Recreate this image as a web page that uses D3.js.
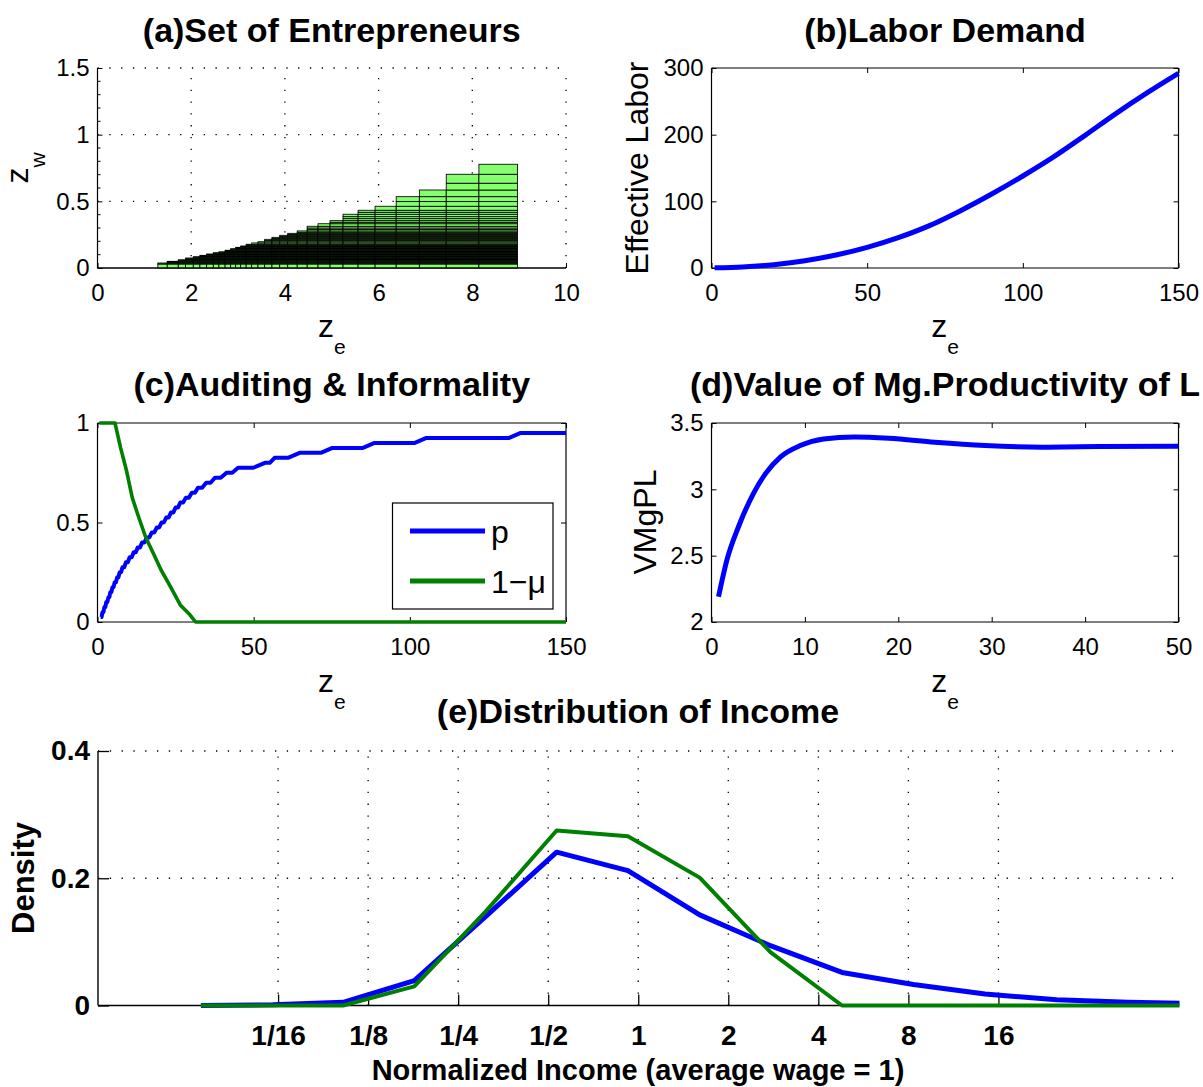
<!DOCTYPE html>
<html>
<head>
<meta charset="utf-8">
<script src="https://cdn.jsdelivr.net/npm/d3@7"></script>
<style>
  body { margin: 0; background: #fff; }
  svg { display: block; }
  text { font-family: "Liberation Sans", Arial, Helvetica, sans-serif; fill: #000; }
</style>
</head>
<body>
<svg id="fig" width="1203" height="1087"></svg>
<script>
// ---------- (a) Set of Entrepreneurs: grid cells (z_e bins x z_w levels) ----------
const entEdges = [1.288, 1.489, 1.724, 1.880, 2.045, 2.186, 2.329, 2.472, 2.592, 2.724, 2.842,
  2.949, 3.056, 3.173, 3.291, 3.425, 3.568, 3.724, 3.889, 4.060, 4.263, 4.476, 4.707, 4.964,
  5.241, 5.562, 5.925, 6.376, 6.870, 7.444, 8.141, 8.964];
const entTops = [0.0375, 0.05, 0.062, 0.075, 0.085, 0.095, 0.105, 0.115, 0.122, 0.133, 0.145,
  0.155, 0.165, 0.178, 0.188, 0.197, 0.215, 0.23, 0.245, 0.26, 0.278, 0.313, 0.332, 0.355,
  0.403, 0.433, 0.463, 0.535, 0.585, 0.703, 0.778];
const zwLevels = [0.03, 0.0375, 0.044, 0.05, 0.056, 0.062, 0.068, 0.075, 0.080, 0.085, 0.090,
  0.095, 0.100, 0.105, 0.110, 0.115, 0.122, 0.128, 0.133, 0.139, 0.145, 0.150, 0.155, 0.160,
  0.165, 0.171, 0.178, 0.188, 0.197, 0.206, 0.215, 0.222, 0.23, 0.237, 0.245, 0.252, 0.26,
  0.268, 0.278, 0.288, 0.300, 0.313, 0.332, 0.343, 0.355, 0.37, 0.385, 0.403, 0.418, 0.433,
  0.463, 0.498, 0.535, 0.585, 0.636, 0.703, 0.778];

// ---------- (b) Labor Demand ----------
const laborZ = [1, 10, 20, 30, 40, 50, 60, 70, 80, 90, 100, 110, 120, 130, 140, 150];
const laborL = [0.3, 1.5, 5, 11, 19.5, 31, 45.5, 63.5, 86, 111, 138, 167, 199, 232, 263, 292];

// ---------- (c) Auditing & Informality ----------
// auditing probability p: z_e at which each step level is reached
const pStart = [1.0, 1.6, 2.2, 2.8, 3.5, 4.1, 4.8, 5.5, 6.3, 7.1, 8.0, 9.1, 10.3, 11.6, 12.9,
  14.3, 15.8, 17.4, 19.0, 20.5, 22.0, 23.5, 25.0, 26.5, 28.3, 30.2, 32.2, 34.8, 37.6, 41.3,
  45.0, 53.6, 56.7, 64.7, 75.2, 88.7, 105.3, 135.5];
const pLevel = [0.025, 0.05, 0.075, 0.1, 0.125, 0.15, 0.175, 0.2, 0.225, 0.25, 0.275, 0.3,
  0.325, 0.35, 0.375, 0.4, 0.425, 0.45, 0.475, 0.5, 0.525, 0.55, 0.575, 0.6, 0.625, 0.65,
  0.675, 0.7, 0.725, 0.75, 0.775, 0.8, 0.825, 0.85, 0.875, 0.9, 0.925, 0.95];
// informality share 1 - mu
const muZ = [0.6, 5.6, 7.4, 9.3, 11.1, 13.0, 15.4, 17.9, 20.4, 23.4, 26.5, 29.6, 31.4, 150];
const muV = [1, 1, 0.875, 0.76, 0.626, 0.535, 0.427, 0.344, 0.26, 0.177, 0.086, 0.036, 0, 0];
const legendLabels = ["p", "1\u2212\u03bc"];

// ---------- (d) Value of marginal productivity of labor ----------
const vmpZ = [0.75, 1.66, 2.9, 4.5, 5.8, 7.4, 9.5, 12, 15.3, 19, 23.9, 29.3, 35.4, 41.6, 50];
const vmpV = [2.19, 2.47, 2.72, 2.97, 3.12, 3.245, 3.33, 3.38, 3.395, 3.385, 3.355, 3.33, 3.318, 3.322, 3.325];

// ---------- (e) Distribution of Income ----------
const incomeX = [0.0345, 0.0600, 0.1031, 0.1784, 0.3092, 0.5335, 0.9234, 1.605, 2.766, 4.80,
  8.32, 14.44, 25.07, 43.4, 75.0];
const densityAll = [0, 0.001, 0.005, 0.039, 0.14, 0.241, 0.212, 0.1425, 0.094, 0.052, 0.033,
  0.018, 0.009, 0.005, 0.003];
const densityFormal = [0, 0, 0, 0.030, 0.148, 0.275, 0.266, 0.201, 0.084, 0, 0, 0, 0, 0, 0];
const incomeTicks = [1/16, 1/8, 1/4, 1/2, 1, 2, 4, 8, 16];
const incomeTickLabels = ["1/16", "1/8", "1/4", "1/2", "1", "2", "4", "8", "16"];

// ---------- figure ----------
const svg = d3.select("#fig");
svg.append("rect").attr("width", 1203).attr("height", 1087).attr("fill", "#fff");

const BLUE = "#0000ff", GREEN = "#008000", CELL = "#86ff6e";

function frame(opt) {
  const g = svg.append("g");
  const [x0, x1] = opt.x.range(), [y1, y0] = opt.y.range(); // y1 bottom, y0 top
  const fs = opt.fontSize, fw = opt.bold ? "bold" : "normal";
  // dotted grid
  if (opt.grid) {
    const gg = g.append("g").attr("stroke", "#000").attr("stroke-width", 1.3)
      .attr("stroke-dasharray", "1.3,10.5").attr("fill", "none");
    opt.xTicks.forEach(v => {
      const px = opt.x(v);
      if (Math.abs(px - x0) < 1) return;
      gg.append("line").attr("x1", px).attr("x2", px).attr("y1", y1).attr("y2", y0);
    });
    opt.yTicks.forEach(v => {
      const py = opt.y(v);
      if (Math.abs(py - y1) < 1) return;
      gg.append("line").attr("x1", x0).attr("x2", x1).attr("y1", py).attr("y2", py);
    });
  }
  const ax = g.append("g").attr("class", "axes");
  // bottom axis
  const bx = ax.append("g").attr("transform", `translate(0,${y1})`)
    .call(d3.axisBottom(opt.x).tickValues(opt.xTicks).tickSize(-opt.tickLen)
      .tickPadding(opt.xPad).tickFormat((d, i) => opt.xFmt ? opt.xFmt(d, i) : d));
  // left axis
  const lx = ax.append("g").attr("transform", `translate(${x0},0)`)
    .call(d3.axisLeft(opt.y).tickValues(opt.yTicks).tickSize(-opt.tickLen)
      .tickPadding(opt.yPad).tickFormat(d => opt.yFmt ? opt.yFmt(d) : d));
  [bx, lx].forEach(s => {
    s.select(".domain").remove();
    s.selectAll("text").attr("font-size", fs).attr("font-weight", fw)
      .attr("font-family", '"Liberation Sans", Arial, sans-serif').attr("fill", "#000");
    s.selectAll(".tick line").attr("stroke", "#000").attr("stroke-width", opt.tickW || 1);
  });
  if (opt.box) {
    const tx = ax.append("g").attr("transform", `translate(0,${y0})`)
      .call(d3.axisTop(opt.x).tickValues(opt.xTicks).tickSize(-opt.tickLen).tickFormat(""));
    const rx = ax.append("g").attr("transform", `translate(${x1},0)`)
      .call(d3.axisRight(opt.y).tickValues(opt.yTicks).tickSize(-opt.tickLen).tickFormat(""));
    [tx, rx].forEach(s => { s.select(".domain").remove(); s.selectAll(".tick line").attr("stroke", "#000"); });
  }
  if (opt.yMinor) {
    opt.yMinor.forEach(v => {
      ax.append("line").attr("x1", x0).attr("x2", x0 + 3).attr("y1", opt.y(v)).attr("y2", opt.y(v))
        .attr("stroke", "#000").attr("stroke-width", 1);
    });
  }
  // solid axis lines
  const lw = opt.axisW || 1.2;
  ax.append("line").attr("x1", x0).attr("x2", x1).attr("y1", y1).attr("y2", y1).attr("stroke", "#000").attr("stroke-width", lw);
  ax.append("line").attr("x1", x0).attr("x2", x0).attr("y1", y1).attr("y2", y0).attr("stroke", "#000").attr("stroke-width", lw);
  if (opt.box) {
    ax.append("line").attr("x1", x0).attr("x2", x1).attr("y1", y0).attr("y2", y0).attr("stroke", "#000").attr("stroke-width", lw);
    ax.append("line").attr("x1", x1).attr("x2", x1).attr("y1", y1).attr("y2", y0).attr("stroke", "#000").attr("stroke-width", lw);
  }
  return g;
}

function title(txt, cx, by) {
  svg.append("text").attr("x", cx).attr("y", by).attr("text-anchor", "middle")
    .attr("font-size", 34).attr("font-weight", "bold").text(txt);
}

function subLabel(x, y, main, sub, rotate) {
  const t = svg.append("text").attr("text-anchor", "middle").attr("font-size", 32);
  if (rotate) t.attr("transform", `translate(${x},${y}) rotate(-90)`);
  else t.attr("x", x).attr("y", y);
  t.append("tspan").text(main);
  t.append("tspan").attr("font-size", 21).attr("dy", 17).text(sub);
}

function plainLabel(x, y, txt, rotate, size, bold) {
  const t = svg.append("text").attr("text-anchor", "middle").attr("font-size", size)
    .attr("font-weight", bold ? "bold" : "normal").text(txt);
  if (rotate) t.attr("transform", `translate(${x},${y}) rotate(-90)`);
  else t.attr("x", x).attr("y", y);
  return t;
}

// ================= (a) =================
const xa = d3.scaleLinear().domain([0, 10]).range([97.5, 566]);
const ya = d3.scaleLinear().domain([0, 1.5]).range([268, 68]);
frame({ x: xa, y: ya, xTicks: [0, 2, 4, 6, 8, 10], yTicks: [0, 0.5, 1, 1.5], grid: true, box: false,
  tickLen: 5, fontSize: 24, xPad: 16, yPad: 8, yMinor: d3.range(1, 15).filter(i => i % 5).map(i => i / 10) });
const cellG = svg.append("g").attr("stroke", "#000").attr("stroke-width", 0.85).attr("fill", CELL);
entTops.forEach((top, i) => {
  const xl = xa(entEdges[i]), xr = xa(entEdges[i + 1]);
  let prev = 0;
  zwLevels.filter(l => l <= top + 1e-9).forEach(l => {
    cellG.append("rect").attr("x", xl).attr("width", xr - xl)
      .attr("y", ya(l)).attr("height", ya(prev) - ya(l));
    prev = l;
  });
});
// redraw bottom axis line over the cells
svg.append("line").attr("x1", 97.5).attr("x2", 566).attr("y1", 268).attr("y2", 268).attr("stroke", "#000").attr("stroke-width", 1.2);
title("(a)Set of Entrepreneurs", 331.75, 42);
subLabel(331.75, 337, "z", "e", false);
subLabel(28, 168, "z", "w", true);

// ================= (b) =================
const xb = d3.scaleLinear().domain([0, 150]).range([711.5, 1178.5]);
const yb = d3.scaleLinear().domain([0, 300]).range([268, 68]);
frame({ x: xb, y: yb, xTicks: [0, 50, 100, 150], yTicks: [0, 100, 200, 300], grid: false, box: true,
  tickLen: 5, fontSize: 24, xPad: 16, yPad: 8 });
svg.append("path").datum(laborZ.map((z, i) => [z, laborL[i]]))
  .attr("fill", "none").attr("stroke", BLUE).attr("stroke-width", 5).attr("stroke-linejoin", "round")
  .attr("d", d3.line().x(d => xb(d[0])).y(d => yb(d[1])).curve(d3.curveMonotoneX));
title("(b)Labor Demand", 945, 42);
subLabel(945, 337, "z", "e", false);
plainLabel(648, 168, "Effective Labor", true, 32, false);

// ================= (c) =================
const xc = d3.scaleLinear().domain([0, 150]).range([97.5, 566]);
const yc = d3.scaleLinear().domain([0, 1]).range([622, 423]);
frame({ x: xc, y: yc, xTicks: [0, 50, 100, 150], yTicks: [0, 0.5, 1], grid: false, box: true,
  tickLen: 5, fontSize: 24, xPad: 16, yPad: 8 });
// staircase with slanted risers between successive levels
const pPts = [];
pStart.forEach((s, k) => {
  pPts.push([s, pLevel[k]]);
  const next = k + 1 < pStart.length ? pStart[k + 1] : null;
  if (next !== null) pPts.push([next - Math.min(0.5 * (next - s), 3.7), pLevel[k]]);
  else pPts.push([150, pLevel[k]]);
});
const lineC = d3.line().x(d => xc(d[0])).y(d => yc(d[1]));
svg.append("path").datum(pPts).attr("fill", "none").attr("stroke", BLUE).attr("stroke-width", 4)
  .attr("stroke-linejoin", "round").attr("d", lineC);
svg.append("path").datum(muZ.map((z, i) => [z, muV[i]])).attr("fill", "none").attr("stroke", GREEN)
  .attr("stroke-width", 3.6).attr("stroke-linejoin", "round").attr("d", lineC);
// legend
const lg = svg.append("g");
lg.append("rect").attr("x", 392.5).attr("y", 503).attr("width", 160.5).attr("height", 106)
  .attr("fill", "#fff").attr("stroke", "#000").attr("stroke-width", 1.2);
[[BLUE, 531, 543], [GREEN, 581, 593]].forEach(([c, ly, ty], i) => {
  lg.append("line").attr("x1", 410).attr("x2", 485).attr("y1", ly).attr("y2", ly)
    .attr("stroke", c).attr("stroke-width", 5);
  lg.append("text").attr("x", 491).attr("y", ty).attr("font-size", 32).text(legendLabels[i]);
});
title("(c)Auditing & Informality", 331.75, 396);
subLabel(331.75, 692, "z", "e", false);

// ================= (d) =================
const xd = d3.scaleLinear().domain([0, 50]).range([711.5, 1178.5]);
const yd = d3.scaleLinear().domain([2, 3.5]).range([622, 423]);
frame({ x: xd, y: yd, xTicks: [0, 10, 20, 30, 40, 50], yTicks: [2, 2.5, 3, 3.5], grid: false, box: true,
  tickLen: 5, fontSize: 24, xPad: 16, yPad: 8 });
svg.append("path").datum(vmpZ.map((z, i) => [z, vmpV[i]]))
  .attr("fill", "none").attr("stroke", BLUE).attr("stroke-width", 5).attr("stroke-linejoin", "round")
  .attr("d", d3.line().x(d => xd(d[0])).y(d => yd(d[1])).curve(d3.curveMonotoneX));
title("(d)Value of Mg.Productivity of L", 945, 396);
subLabel(945, 692, "z", "e", false);
plainLabel(656, 522, "VMgPL", true, 32, false);

// ================= (e) =================
const xe = d3.scaleLog().base(2).domain([1 / 64, 64]).range([98, 1178.5]);
const ye = d3.scaleLinear().domain([0, 0.4]).range([1005.5, 751]);
frame({ x: xe, y: ye, xTicks: incomeTicks, yTicks: [0, 0.2, 0.4], grid: true, box: false,
  tickLen: 11, fontSize: 28, bold: true, xPad: 20, yPad: 8, tickW: 1.3, axisW: 1.4,
  xFmt: (d, i) => incomeTickLabels[i], yFmt: d => d });
svg.append("clipPath").attr("id", "clipE").append("rect")
  .attr("x", 98).attr("y", 700).attr("width", 1178.5 - 98 + 1).attr("height", 340);
const lineE = d3.line().x(d => xe(d[0])).y(d => ye(d[1]));
const eG = svg.append("g").attr("clip-path", "url(#clipE)");
eG.append("path").datum(incomeX.map((v, i) => [v, densityAll[i]])).attr("fill", "none")
  .attr("stroke", BLUE).attr("stroke-width", 5).attr("stroke-linejoin", "round").attr("d", lineE);
eG.append("path").datum(incomeX.map((v, i) => [v, densityFormal[i]])).attr("fill", "none")
  .attr("stroke", GREEN).attr("stroke-width", 4).attr("stroke-linejoin", "round").attr("d", lineE);
title("(e)Distribution of Income", 638, 723);
plainLabel(34, 878, "Density", true, 31, true);
plainLabel(638, 1080, "Normalized Income (average wage = 1)", false, 29, true);
</script>
</body>
</html>
